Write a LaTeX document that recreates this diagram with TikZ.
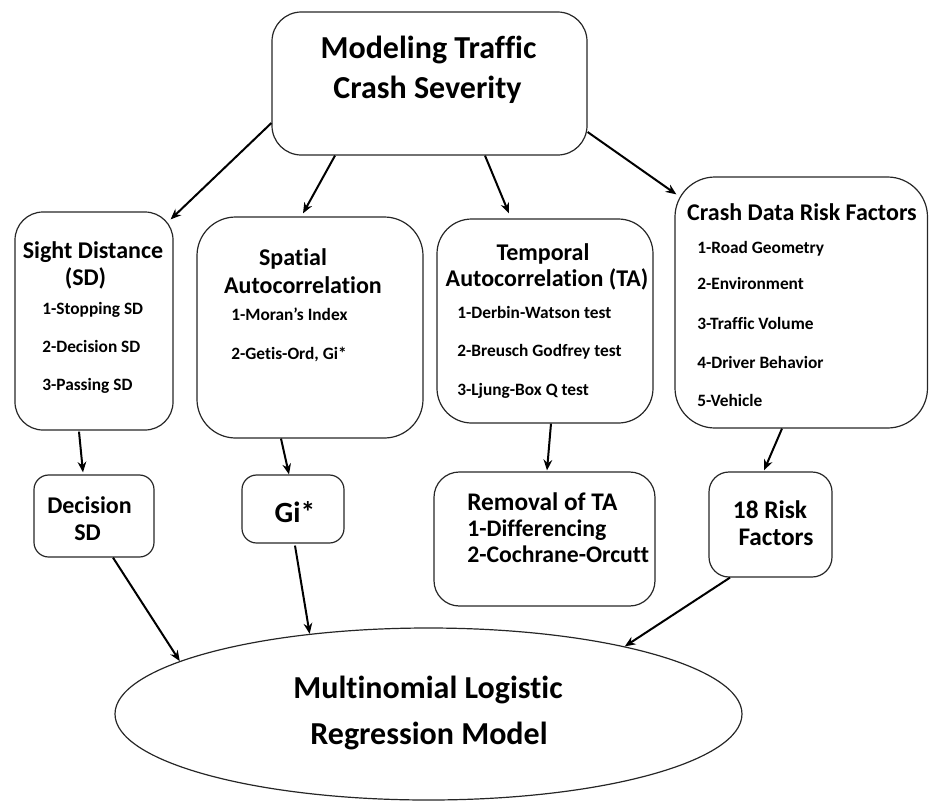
\documentclass[tikz,border=0pt]{standalone}
\usepackage{fontspec}
\setmainfont{Carlito}[Ligatures=NoCommon]
\usetikzlibrary{shapes.geometric,arrows.meta,calc,fit}
\tikzset{
  box/.style={draw=black!85, line width=0.9pt, inner sep=0pt},
  arr/.style={-{Stealth[length=8pt,width=6.5pt]}, line width=1.5pt},
  bigtxt/.style={font=\fontsize{24}{28}\selectfont\bfseries, anchor=base, inner sep=0pt},
  head/.style={font=\fontsize{18}{20}\selectfont\bfseries, anchor=base, inner sep=0pt},
  midtxt/.style={font=\fontsize{19}{21}\selectfont\bfseries, anchor=base, inner sep=0pt},
  remtxt/.style={font=\fontsize{17.8}{20}\selectfont\bfseries, anchor=base west, inner sep=0pt},
  item/.style={font=\fontsize{13}{15}\selectfont\bfseries, anchor=base west, inner sep=0pt}
}
\begin{document}
\begin{tikzpicture}[x=0.75pt,y=-0.75pt]
\useasboundingbox (0,0) rectangle (929,801);
% boxes
\node[box, rounded corners=22pt, fit={(272,12) (587,155)}] (top) {};
\node[box, rounded corners=21pt, fit={(15,212) (173,430)}] (sd) {};
\node[box, rounded corners=29pt, fit={(197,217) (423,438)}] (sp) {};
\node[box, rounded corners=26pt, fit={(437,219) (653,423)}] (tm) {};
\node[box, rounded corners=30pt, fit={(675,177) (927.5,428)}] (cr) {};
\node[box, rounded corners=11pt, fit={(34,475) (154,557)}] (dec) {};
\node[box, rounded corners=11pt, fit={(242,475) (344,543)}] (gi) {};
\node[box, rounded corners=19pt, fit={(434,472) (655,606)}] (rem) {};
\node[box, rounded corners=15pt, fit={(709,472) (832,577)}] (risk) {};
\node[draw=black!85, line width=0.9pt, ellipse, minimum width=470.25pt, minimum height=129pt, inner sep=0pt] (ell) at (428.5,714) {};
% top text
\node[bigtxt] (t1) at (428.5,58.6) {Modeling Traffic};
\node[bigtxt] (t2) at (427.5,98.6) {Crash Severity};
% sight distance
\node[head] (sdh1) at (93,258) {Sight Distance};
\node[head] (sdh2) at (85.5,285) {(SD)};
\node[item] (sdi1) at (42,314) {1-Stopping SD};
\node[item] (sdi2) at (42,352) {2-Decision SD};
\node[item] (sdi3) at (42,390) {3-Passing SD};
% spatial
\node[head] (sph1) at (293,265) {Spatial};
\node[head] (sph2) at (303,293) {Autocorrelation};
\node[item] (spi1) at (231,320) {1-Moran’s Index};
\node[item] (spi2) at (231,359) {2-Getis-Ord, Gi*};
% temporal
\node[head] (tmh1) at (543,260) {Temporal};
\node[head] (tmh2) at (547,286) {Autocorrelation (TA)};
\node[item] (tmi1) at (457,318) {1-Derbin-Watson test};
\node[item] (tmi2) at (457,356) {2-Breusch Godfrey test};
\node[item] (tmi3) at (457,395) {3-Ljung-Box Q test};
% crash data
\node[head] (crh) at (802,220) {Crash Data Risk Factors};
\node[item] (cri1) at (697,253) {1-Road Geometry};
\node[item] (cri2) at (697,289) {2-Environment};
\node[item] (cri3) at (697,329) {3-Traffic Volume};
\node[item] (cri4) at (697,368) {4-Driver Behavior};
\node[item] (cri5) at (697,406) {5-Vehicle};
% bottom row
\node[head] (dect1) at (89.5,513) {Decision};
\node[head] (dect2) at (87.5,540) {SD};
\node[font=\fontsize{22}{24}\selectfont\bfseries, anchor=base, inner sep=0pt] (git) at (295,522.7) {Gi*};
\node[remtxt, font=\fontsize{19}{21}\selectfont\bfseries] (remt1) at (467,510) {Removal of TA};
\node[remtxt] (remt2) at (467,536) {1-Differencing};
\node[remtxt] (remt3) at (467,562) {2-Cochrane-Orcutt};
\node[midtxt] (riskt1) at (770,518) {18 Risk};
\node[midtxt] (riskt2) at (776,545) {Factors};
% ellipse text
\node[bigtxt] (e1) at (428,698) {Multinomial Logistic};
\node[bigtxt] (e2) at (429,744) {Regression Model};
% connectors
\draw[arr] ($(top.west)+(0,39.5)$) -- ($(sd.north east)+(-3,8)$);
\draw[arr] ($(top.south)+(-94.5,0)$) -- ($(sp.north)+(-7,-3)$);
\draw[arr] ($(top.south)+(55.5,0)$) -- ($(tm.north)+(-36,-5)$);
\draw[arr] ($(top.east)+(0,48.5)$) -- ($(cr.north west)+(2,18)$);
\draw[arr] ($(sd.south)+(-15,1)$) -- ($(dec.north)+(-11,-2)$);
\draw[arr] ($(sp.south)+(-29,0)$) -- ($(gi.north)+(-4,0)$);
\draw[arr] ($(tm.south)+(6,0)$) -- ($(rem.north)+(2.5,-1)$);
\draw[arr] ($(cr.south)+(-19.25,0)$) -- ($(risk.north)+(-6.5,-1)$);
\draw[arr] ($(dec.south)+(19,0)$) -- (ell.168.4);
\draw[arr] ($(gi.south)+(2,2)$) -- (ell.146.1);
\draw[arr] ($(risk.south)+(-40.5,0)$) -- (ell.19.2);
\end{tikzpicture}
\end{document}
